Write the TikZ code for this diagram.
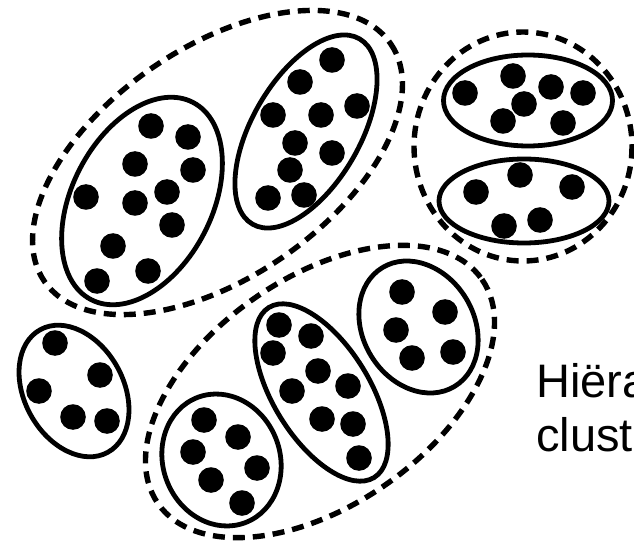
\documentclass[tikz,border=0pt]{standalone}
\usepackage{fontspec}
\setmainfont{Liberation Sans}
\usepackage{xcolor}
\usepackage{tikz}
\definecolor{ZwartPunt}{RGB}{0,0,0}

\begin{document}
\begin{tikzpicture}[x=1pt,y=-1pt,
  punt/.style={fill=ZwartPunt},
  cluster/.style={draw=ZwartPunt,line width=4.8pt},
  supercluster/.style={draw=ZwartPunt,line width=5.4pt,dash pattern=on 12pt off 8pt}]
  \path[use as bounding box,clip] (0,0) rectangle (634,545);

  \coordinate (A) at (142,201);
  \coordinate (B) at (306,131.5);
  \coordinate (C) at (528,100.5);
  \coordinate (D) at (524,201);
  \coordinate (E) at (74,391);
  \coordinate (F) at (221.5,460);
  \coordinate (G) at (321.5,392.5);
  \coordinate (H) at (418.5,327);

  \draw[supercluster] (217.5,162.5) ellipse [x radius=210,y radius=115,rotate=34.5];
  \draw[supercluster] (320,391.5) ellipse [x radius=197,y radius=114,rotate=34.7];
  \draw[supercluster] (523,146.5) ellipse [x radius=109,y radius=114.5];

  \draw[cluster] (A) ellipse [x radius=111,y radius=70,rotate=62.7];
  \draw[cluster] (B) ellipse [x radius=107,y radius=54,rotate=60];
  \draw[cluster] (C) ellipse [x radius=84.5,y radius=45.5];
  \draw[cluster] (D) ellipse [x radius=85,y radius=42];
  \draw[cluster] (E) ellipse [x radius=70,y radius=49.5,rotate=118.9];
  \draw[cluster] (F) ellipse [x radius=67,y radius=58.5,rotate=111];
  \draw[cluster] (G) ellipse [x radius=100,y radius=48,rotate=121.8];
  \draw[cluster] (H) ellipse [x radius=69.5,y radius=55.5,rotate=121.4];

  \foreach \p in {(151,126),(188,137),(135,164),(193,170),(86,197),(167,192),
                  (135,203),(172,225),(113,246),(148,271),(97,281),
                  (332,60),(300,82),(357,106),(273,115),(321,115),(295,143),
                  (332,153),(290,170),(268,198),(304,195),
                  (465,93),(513,76),(551,87),(583,93),(524,104),(503,121),(563,123),
                  (520,175),(476,192),(572,187),(504,226),(540,220),
                  (55,343),(100,375),(39,391),(73,417),(107,421),
                  (204,420),(238,437),(193,452),(257,468),(211,480),(242,503),
                  (279,325),(311,336),(273,353),(318,371),(292,391),(348,386),
                  (322,419),(353,424),(359,458),
                  (402,292),(445,312),(396,330),(412,358),(453,352)}
    \fill[punt] \p circle (12.8);

  \node[anchor=base west,align=left,inner sep=0pt,font=\fontsize{47}{54}\selectfont]
    (titel) at (536,451) {Hiërarchische\\clustering};
\end{tikzpicture}
\end{document}
